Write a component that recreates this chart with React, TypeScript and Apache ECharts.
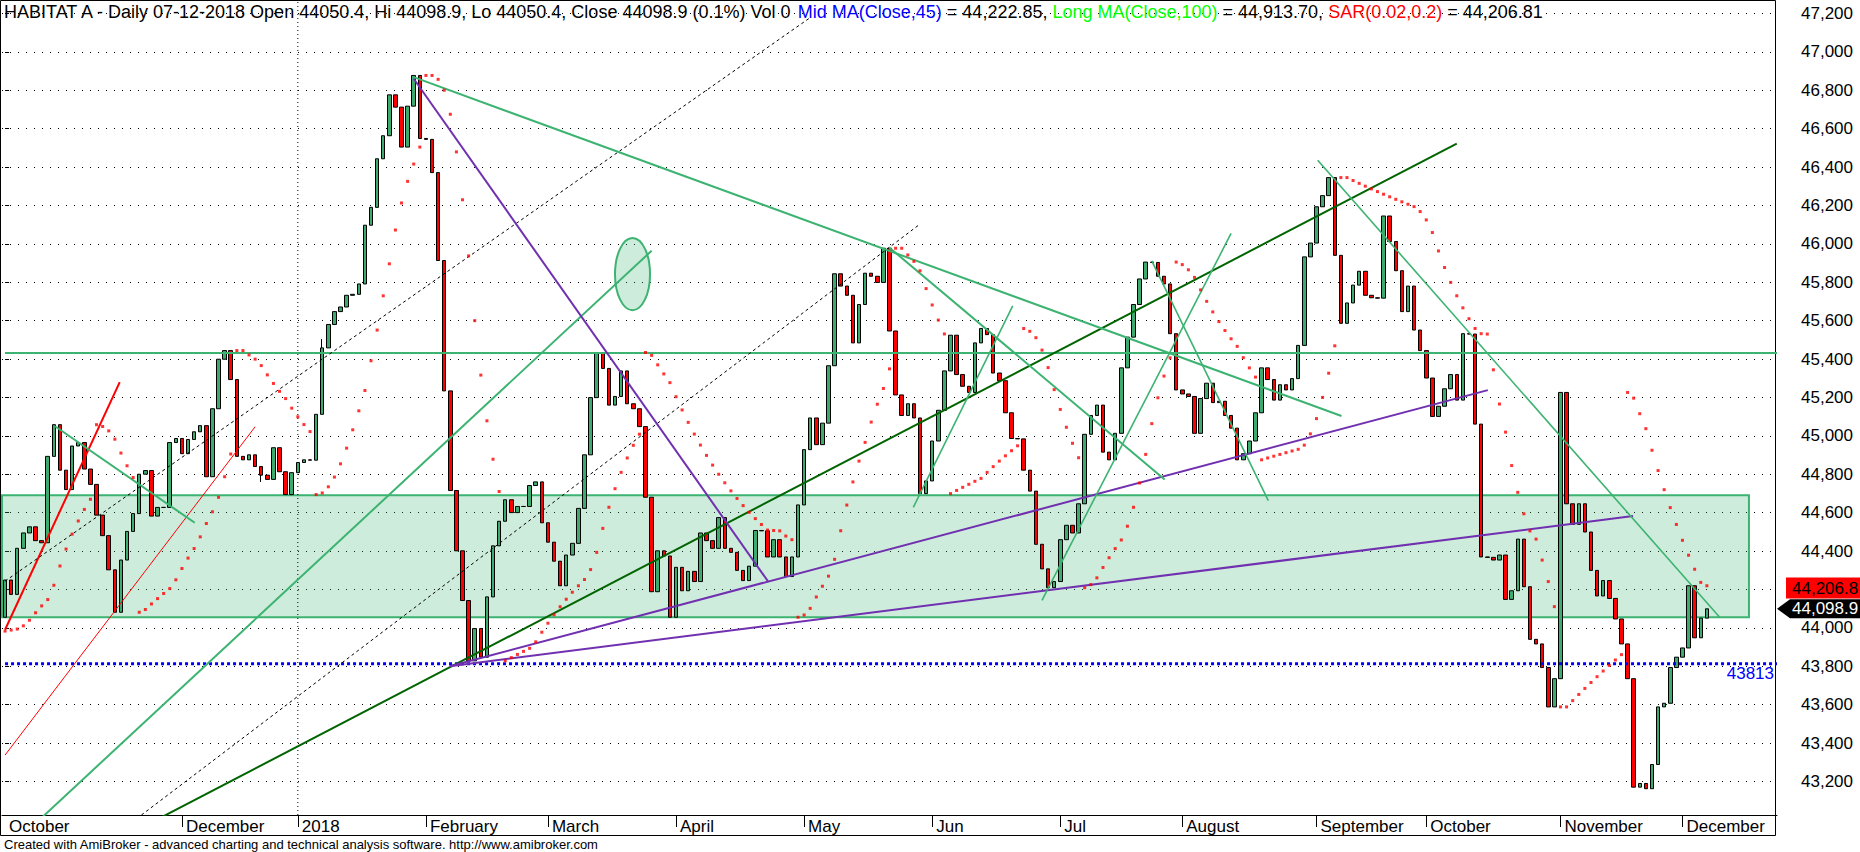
import React, { useEffect, useRef } from 'react';
import * as echarts from 'echarts';

// ---------------- data ----------------
const FIRST_OPEN = 44055;
const CLOSES: number[] = [
  44249, 44174, 44414, 44494, 44526, 44454, 44443, 44893, 45058, 44821,
  44720, 44947, 44965, 44827, 44747, 44587, 44480, 44302, 44081, 44353,
  44502, 44595, 44800, 44819, 44582, 44627, 44627, 44965, 44986, 44907,
  44981, 45021, 45053, 44787, 45141, 45399, 45444, 45293, 44893, 44875,
  44901, 44840, 44795, 44773, 44938, 44813, 44694, 44808, 44861, 44875,
  44873, 45112, 45458, 45580, 45647, 45671, 45732, 45737, 45791, 46097,
  46190, 46443, 46563, 46776, 46712, 46504, 46717, 46877, 46549, 46544,
  46371, 45913, 45234, 44715, 44401, 44142, 43828, 43996, 43847, 44161,
  44427, 44555, 44667, 44600, 44632, 44632, 44741, 44760, 44547, 44446,
  44347, 44219, 44379, 44440, 44622, 44901, 45199, 45434, 45351, 45160,
  45205, 45338, 45167, 45141, 45048, 44680, 44188, 44401, 44374, 44055,
  44315, 44193, 44294, 44241, 44494, 44454, 44414, 44574, 44414, 44393,
  44299, 44246, 44321, 44507, 44505, 44369, 44459, 44369, 44267, 44369,
  44640, 44928, 45093, 44954, 45066, 45365, 45844, 45780, 45732, 45484,
  45684, 45847, 45831, 45799, 45977, 45546, 45213, 45106, 45167, 45093,
  44699, 44765, 44973, 45133, 45338, 45524, 45319, 45258, 45226, 45484,
  45559, 45527, 45327, 45287, 45120, 44986, 44984, 44821, 44712, 44435,
  44307, 44209, 44241, 44459, 44534, 44494, 44646, 45008, 45106, 45160,
  44915, 44875, 45013, 45354, 45514, 45684, 45817, 45905, 45903, 45831,
  45791, 45532, 45239, 45218, 45205, 45013, 45194, 45274, 45173, 45180,
  45106, 45040, 44875, 44907, 44973, 45120, 45354, 45293, 45186, 45266,
  45239, 45298, 45471, 45932, 46004, 46193, 46251, 46345, 45940, 45586,
  45692, 45785, 45857, 45732, 45719, 45717, 46145, 46012, 45860, 45647,
  45780, 45551, 45444, 45301, 45101, 45154, 45245, 45319, 45186, 45532,
  45530, 45061, 44369, 44367, 44353, 44379, 44148, 44193, 44462, 44214,
  43940, 43916, 43793, 43588, 43735, 45226, 44646, 44539, 44646, 44499,
  44299, 44166, 44246, 44153, 44046, 43916, 43735, 43170, 43189, 43162,
  43288, 43588, 43607, 43793, 43847, 43895, 44219, 43948, 44050.4, 44098.9,
];
// extra wicks [bar, value]
const WICK_HIGHS: [number, number][] = [[52, 45504]];
const WICK_LOWS: [number, number][] = [[42, 44760]];

// month labels [bar, text]; first one has no separator tick
const MONTH_LABELS: [number, string][] = [
  [0, 'October'], [29, 'December'], [48, '2018'], [69, 'February'], [89, 'March'],
  [110, 'April'], [131, 'May'], [152, 'Jun'], [173, 'Jul'], [193, 'August'],
  [215, 'September'], [233, 'October'], [255, 'November'], [275, 'December'],
];
const YEAR_BAR = 48;
const TOTAL_SLOTS = 291; // bars + blank space on the right

const Y_MIN = 43025;
const Y_MAX = 47270;
// price-axis labels covered by the value tags in the reference
const HIDDEN_Y_LABELS = [44200];

// SAR(0.02, 0.2)
const SAR_START = 43983;
const SAR_STEP = 0.02;
const SAR_MAX = 0.2;

// levels
const RESIST_LEVEL = 45432;
const SUPPORT_LEVEL = 43813;
const ZONE_TOP = 44690;
const ZONE_BOTTOM = 44055;
const ZONE_END_BAR = 285.9;
// ellipse: centre bar, centre price, radius in bars, radius in price
const ELLIPSE_C: [number, number] = [102.87, 45842];
const ELLIPSE_R: [number, number] = [2.87, 188];

// trendlines [bar1, price1, bar2, price2, kind]
const TRENDLINES: [number, number, number, number, string][] = [
  [0, 43990, 18.8, 45280, 'redThick'],
  [0, 43337, 41, 45047, 'redThin'],
  [8.2, 45050, 31.1, 44547, 'green'],
  [0, 44243, 131.9, 47176, 'dashed'],
  [20, 42968, 150, 46103, 'dashed'],
  [5, 42981, 106, 45964, 'green'],
  [20, 42920, 238, 46522, 'darkGreen'],
  [72.9, 43800, 243.1, 45238, 'purple'],
  [72.9, 43800, 266.9, 44582, 'purple'],
  [67, 46860, 125.1, 44241, 'purple'],
  [67, 46868, 219.1, 45103, 'green'],
  [145, 45980, 190.1, 44773, 'green'],
  [148.9, 44627, 165.2, 45677, 'greenThin'],
  [170, 44143, 201, 46054, 'greenThin'],
  [188, 45911, 207.1, 44662, 'greenThin'],
  [215.2, 46435, 281.1, 44055, 'greenThin'],
];

const TITLE_PARTS: [string, string][] = [
  ['k', 'HABITAT A - Daily 07-12-2018 Open 44050.4, Hi 44098.9, Lo 44050.4, Close 44098.9 (0.1%) Vol 0 '],
  ['b', 'Mid MA(Close,45)'],
  ['k', ' = 44,222.85, '],
  ['g', 'Long MA(Close,100)'],
  ['k', ' = 44,913.70, '],
  ['r', 'SAR(0.02,0.2)'],
  ['k', ' = 44,206.81'],
];
const SAR_TAG_VALUE = 44206.8;
const SAR_TAG_TEXT = '44,206.8';
const CLOSE_TAG_TEXT = '44,098.9';
const SUPPORT_TEXT = '43813';
const FOOTER = 'Created with AmiBroker - advanced charting and technical analysis software. http://www.amibroker.com';

// ---------------- styles ----------------
const FONT = '"Liberation Sans", Arial, sans-serif';
const LINE_STYLES: Record<string, any> = {
  redThick: { color: '#ff0000', width: 2, type: 'solid' },
  redThin: { color: '#ff0000', width: 1, type: 'solid' },
  green: { color: '#3cb371', width: 2, type: 'solid' },
  greenThin: { color: '#3cb371', width: 1.6, type: 'solid' },
  darkGreen: { color: '#006400', width: 2, type: 'solid' },
  purple: { color: '#7030b0', width: 2, type: 'solid' },
  dashed: { color: '#000000', width: 1, type: [3, 3] },
};

function computeSar(high: number[], low: number[]): number[] {
  const n = high.length;
  const sar: number[] = new Array(n);
  let long = true;
  let af = SAR_STEP;
  let ep = high[0];
  sar[0] = SAR_START;
  for (let i = 1; i < n; i++) {
    let s = sar[i - 1] + af * (ep - sar[i - 1]);
    if (long) {
      s = Math.min(s, low[i - 1], i >= 2 ? low[i - 2] : low[i - 1]);
      if (low[i] < s) {
        long = false; s = ep; ep = low[i]; af = SAR_STEP;
      } else if (high[i] > ep) {
        ep = high[i]; af = Math.min(af + SAR_STEP, SAR_MAX);
      }
    } else {
      s = Math.max(s, high[i - 1], i >= 2 ? high[i - 2] : high[i - 1]);
      if (high[i] > s) {
        long = true; s = ep; ep = high[i]; af = SAR_STEP;
      } else if (low[i] < ep) {
        ep = low[i]; af = Math.min(af + SAR_STEP, SAR_MAX);
      }
    }
    sar[i] = s;
  }
  return sar;
}

export default function App() {
  const ref = useRef<HTMLDivElement>(null);

  useEffect(() => {
    const el = ref.current!;
    const chart = echarts.init(el, undefined, { renderer: 'svg', width: 1860, height: 852 });

    const opens = CLOSES.map((c, i) => (i === 0 ? FIRST_OPEN : CLOSES[i - 1]));
    const highs = CLOSES.map((c, i) => Math.max(c, opens[i]));
    const lows = CLOSES.map((c, i) => Math.min(c, opens[i]));
    WICK_HIGHS.forEach(([i, v]) => { highs[i] = Math.max(highs[i], v); });
    WICK_LOWS.forEach(([i, v]) => { lows[i] = Math.min(lows[i], v); });
    const candles = CLOSES.map((c, i) => [opens[i], c, lows[i], highs[i]]);
    const sar = computeSar(highs, lows);

    const categories = Array.from({ length: TOTAL_SLOTS }, (_, i) => String(i));
    const labelMap = new Map<number, string>(MONTH_LABELS);
    const tickSet = new Set(MONTH_LABELS.filter(([i]) => i > 0).map(([i]) => i));
    const hiddenY = new Set(HIDDEN_Y_LABELS);
    const xMax = TOTAL_SLOTS - 0.5;

    const rich: Record<string, any> = {
      k: { color: '#000000', fontSize: 18, fontFamily: FONT, fontWeight: 'normal' },
      b: { color: '#0000ff', fontSize: 18, fontFamily: FONT, fontWeight: 'normal' },
      g: { color: '#00ff00', fontSize: 18, fontFamily: FONT, fontWeight: 'normal' },
      r: { color: '#ff0000', fontSize: 18, fontFamily: FONT, fontWeight: 'normal' },
    };

    const trendSeries = TRENDLINES.map(([x1, y1, x2, y2, kind]) => ({
      type: 'line',
      xAxisIndex: 1,
      yAxisIndex: 0,
      data: [[x1, y1], [x2, y2]],
      symbol: 'none',
      silent: true,
      clip: true,
      z: 4,
      lineStyle: LINE_STYLES[kind],
    }));

    const option: any = {
      animation: false,
      backgroundColor: '#ffffff',
      textStyle: { fontFamily: FONT },
      title: {
        text: TITLE_PARTS.map(([k, t]) => `{${k}|${t}}`).join(''),
        left: 4,
        top: 3,
        padding: 0,
        z: 20,
        textStyle: { rich, fontSize: 18, fontWeight: 'normal', fontFamily: FONT },
      },
      grid: { left: 2, top: 0, width: 1775, height: 815, containLabel: false, outerBoundsMode: 'none' },
      xAxis: [
        {
          type: 'category',
          data: categories,
          boundaryGap: true,
          axisLine: { show: true, lineStyle: { color: '#000', width: 1 } },
          axisTick: {
            show: true,
            alignWithLabel: true,
            interval: (i: number) => tickSet.has(i),
            length: 12,
            lineStyle: { color: '#000', width: 1 },
          },
          axisLabel: {
            show: true,
            interval: (i: number) => labelMap.has(i),
            formatter: (v: string) => labelMap.get(Number(v)) || '',
            align: 'left',
            margin: 3,
            padding: [0, 0, 0, 4],
            fontSize: 17,
            fontFamily: FONT,
            color: '#000',
          },
          splitLine: { show: false },
        },
        { type: 'value', min: -0.5, max: xMax, show: false },
      ],
      yAxis: {
        type: 'value',
        position: 'right',
        min: Y_MIN,
        max: Y_MAX,
        splitNumber: 21,
        minInterval: 200,
        maxInterval: 200,
        axisLine: { show: false },
        axisTick: { show: true, length: 4, lineStyle: { color: '#000' } },
        axisLabel: {
          margin: 24,
          fontSize: 17,
          fontFamily: FONT,
          color: '#000',
          align: 'left',
          showMinLabel: false,
          showMaxLabel: false,
          formatter: (v: number) =>
            hiddenY.has(Math.round(v)) ? '' : Math.round(v).toLocaleString('en-US'),
        },
        splitLine: { show: true, lineStyle: { color: '#000', width: 1, type: [1, 7] } },
      },
      series: [
        {
          type: 'line',
          xAxisIndex: 1,
          yAxisIndex: 0,
          data: [[-0.5, ZONE_TOP], [ZONE_END_BAR, ZONE_BOTTOM]],
          symbol: 'none',
          lineStyle: { opacity: 0 },
          silent: true,
          z: 1,
          markArea: {
            silent: true,
            label: { show: false },
            itemStyle: { color: 'rgba(60,179,113,0.25)', borderColor: '#3cb371', borderWidth: 2 },
            data: [[{ xAxis: -0.5, yAxis: ZONE_TOP }, { xAxis: ZONE_END_BAR, yAxis: ZONE_BOTTOM }]],
          },
        },
        {
          type: 'line',
          xAxisIndex: 1,
          yAxisIndex: 0,
          data: [[YEAR_BAR, Y_MIN], [YEAR_BAR, Y_MAX]],
          symbol: 'none',
          silent: true,
          z: 1,
          lineStyle: { color: '#000', width: 1, type: [1, 3] },
        },
        {
          type: 'candlestick',
          xAxisIndex: 0,
          yAxisIndex: 0,
          data: candles,
          barWidth: 4,
          z: 3,
          itemStyle: {
            color: '#3cab6d',
            color0: '#ff0000',
            borderColor: '#000000',
            borderColor0: '#000000',
            borderColorDoji: '#000000',
            borderWidth: 1,
          },
        },
        {
          type: 'line',
          xAxisIndex: 1,
          yAxisIndex: 0,
          data: [[0, RESIST_LEVEL], [xMax, RESIST_LEVEL]],
          symbol: 'none',
          silent: true,
          z: 4,
          lineStyle: { color: '#3cb371', width: 2 },
        },
        {
          type: 'line',
          xAxisIndex: 1,
          yAxisIndex: 0,
          data: [[0, SUPPORT_LEVEL], [xMax, SUPPORT_LEVEL]],
          symbol: 'none',
          silent: true,
          z: 4,
          lineStyle: { color: '#0000ff', width: 3, type: [3, 3] },
        },
        ...trendSeries,
        {
          type: 'scatter',
          xAxisIndex: 1,
          yAxisIndex: 0,
          data: sar.map((v, i) => [i, v]),
          symbol: 'rect',
          symbolSize: [3, 3],
          silent: true,
          z: 5,
          itemStyle: { color: '#ff0000' },
        },
      ],
    };

    chart.setOption(option);

    const sarSeriesIndex = option.series.length - 1;
    const px = (x: number, y: number) =>
      chart.convertToPixel({ seriesIndex: sarSeriesIndex }, [x, y]) as number[];

    const [ecx, ecy] = px(ELLIPSE_C[0], ELLIPSE_C[1]);
    const [erx] = px(ELLIPSE_C[0] + ELLIPSE_R[0], ELLIPSE_C[1]);
    const [, ery] = px(ELLIPSE_C[0], ELLIPSE_C[1] + ELLIPSE_R[1]);
    const ySar = px(0, SAR_TAG_VALUE)[1];
    const yClose = px(0, CLOSES[CLOSES.length - 1])[1];
    const ySup = px(0, SUPPORT_LEVEL)[1];

    chart.setOption({
      graphic: [
        {
          type: 'ellipse',
          z: 2,
          silent: true,
          shape: { cx: ecx, cy: ecy, rx: Math.abs(erx - ecx), ry: Math.abs(ecy - ery) },
          style: { fill: 'rgba(60,179,113,0.25)', stroke: '#3cb371', lineWidth: 2 },
        },
        {
          type: 'rect',
          silent: true,
          shape: { x: 0.5, y: 0.5, width: 1775, height: 835 },
          style: { fill: 'none', stroke: '#000', lineWidth: 1 },
        },
        {
          type: 'text',
          silent: true,
          x: 1774,
          y: ySup + 10,
          style: { text: SUPPORT_TEXT, fontSize: 17, fontFamily: FONT, fill: '#0000ff', align: 'right', verticalAlign: 'middle' },
        },
        {
          type: 'rect',
          silent: true,
          shape: { x: 1786, y: ySar - 10.5, width: 80, height: 21 },
          style: { fill: '#ff0000' },
        },
        {
          type: 'text',
          silent: true,
          x: 1792,
          y: ySar,
          style: { text: SAR_TAG_TEXT, fontSize: 17, fontFamily: FONT, fill: '#000', verticalAlign: 'middle' },
        },
        {
          type: 'polygon',
          silent: true,
          shape: {
            points: [
              [1777, yClose], [1790, yClose - 9.5], [1866, yClose - 9.5],
              [1866, yClose + 9.5], [1790, yClose + 9.5],
            ],
          },
          style: { fill: '#000' },
        },
        {
          type: 'text',
          silent: true,
          x: 1792,
          y: yClose,
          style: { text: CLOSE_TAG_TEXT, fontSize: 17, fontFamily: FONT, fill: '#fff', verticalAlign: 'middle' },
        },
        {
          type: 'text',
          silent: true,
          x: 4,
          y: 844,
          style: { text: FOOTER, fontSize: 13, fontFamily: FONT, fill: '#000', verticalAlign: 'middle' },
        },
      ],
    });

    return () => chart.dispose();
  }, []);

  return (
    <div
      ref={ref}
      style={{ position: 'fixed', left: 0, top: 0, width: 1860, height: 852, background: '#fff' }}
    />
  );
}
